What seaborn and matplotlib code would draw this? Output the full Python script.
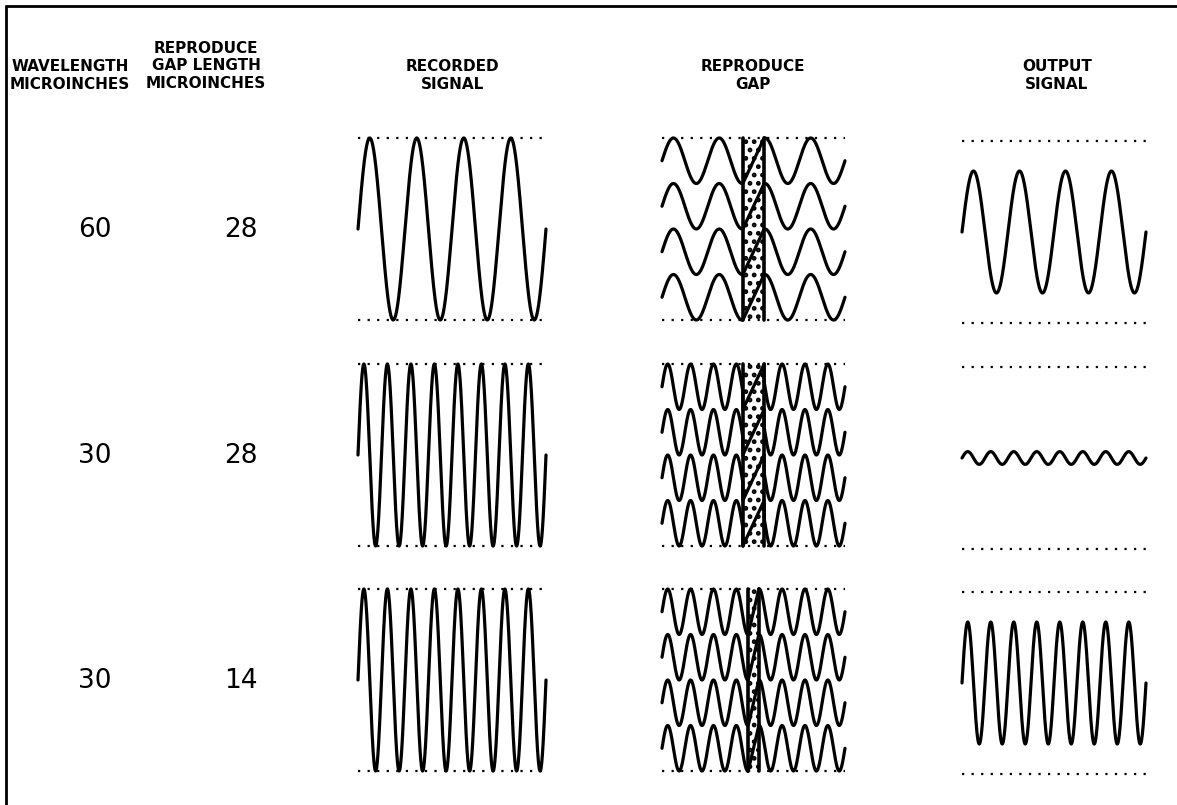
import numpy as np
import pandas as pd
import matplotlib
matplotlib.use("Agg")
import matplotlib.pyplot as plt
from matplotlib.lines import Line2D
import seaborn as sns

# ---------------- data ----------------
wavelength_uin = [60, 30, 30]          # recorded wavelength, microinches
gap_length_uin = [28, 28, 14]          # reproduce gap length, microinches
output_amplitude = [0.67, 0.07, 0.67]  # relative output amplitude
track_length_uin = 240                 # length of track shown in each panel
stacked_tracks = 4                     # number of tracks drawn under the gap

row_labels_wavelength = ["60", "30", "30"]
row_labels_gap = ["28", "28", "14"]
headers = {
    "wavelength": "WAVELENGTH\nMICROINCHES",
    "gap": "REPRODUCE\nGAP LENGTH\nMICROINCHES",
    "recorded": "RECORDED\nSIGNAL",
    "reproduce": "REPRODUCE\nGAP",
    "output": "OUTPUT\nSIGNAL",
}

# ---------------- layout (pixels) ----------------
W, H = 1177, 805
sns.set_theme(style="white")
plt.rcParams["font.family"] = ["DejaVu Sans"]
plt.rcParams["hatch.linewidth"] = 2.2
fig = plt.figure(figsize=(W / 100, H / 100), dpi=100)
fig.patch.set_facecolor("white")

row_top = [138, 364, 589]
panel_h = 182
rec_x = (358, 546)
gap_x = (662, 845)
out_x = (962, 1146)
out_dy = 3

WAVE_LW = 2.3
DOT = dict(color="black", lw=1.6, ls=(0, (1, 3.3)))


def px_axes(x0, x1, y0, y1):
    ax = fig.add_axes([x0 / W, 1 - y1 / H, (x1 - x0) / W, (y1 - y0) / H])
    ax.set_facecolor("none")
    return ax


def finish(ax, ylim):
    ax.set_xlim(0, track_length_uin)
    ax.set_ylim(*ylim)
    ax.axis("off")
    for ln in ax.lines:
        ln.set_clip_on(False)


x = np.linspace(0, track_length_uin, 2401)

for r in range(3):
    lam = wavelength_uin[r]
    g = gap_length_uin[r]
    y0 = row_top[r]
    y1 = y0 + panel_h

    # ---- recorded signal ----
    ax = px_axes(*rec_x, y0, y1)
    df = pd.DataFrame({"x": x, "y": np.sin(2 * np.pi * x / lam)})
    sns.lineplot(data=df, x="x", y="y", ax=ax, color="black", lw=WAVE_LW,
                 estimator=None, sort=False)
    ax.axhline(1, **DOT)
    ax.axhline(-1, **DOT)
    finish(ax, (-1, 1))

    # ---- reproduce gap ----
    ax = px_axes(*gap_x, y0, y1)
    gl = track_length_uin / 2 - g / 2
    gr = track_length_uin / 2 + g / 2
    ax.axvspan(gl, gr, facecolor="none", edgecolor="black", hatch="..", lw=0)
    frames = []
    for k in range(stacked_tracks):
        c = (stacked_tracks - 1) - 2 * k
        left = x[x < gl]
        right = x[x > gr]
        xs = np.concatenate([left, [gl, gl, gr, gr], right])
        ys = np.concatenate([
            c + np.sin(2 * np.pi * left / lam),
            [c + np.sin(2 * np.pi * gl / lam), c - 1, c + 1,
             c + np.sin(2 * np.pi * gr / lam)],
            c + np.sin(2 * np.pi * right / lam),
        ])
        frames.append(pd.DataFrame({"x": xs, "y": ys, "track": k}))
    df = pd.concat(frames, ignore_index=True)
    sns.lineplot(data=df, x="x", y="y", units="track", ax=ax, color="black",
                 lw=WAVE_LW, estimator=None, sort=False)
    ax.axvline(gl, color="black", lw=2.6)
    ax.axvline(gr, color="black", lw=2.6)
    ax.axhline(stacked_tracks, **DOT)
    ax.axhline(-stacked_tracks, **DOT)
    finish(ax, (-stacked_tracks, stacked_tracks))

    # ---- output signal ----
    ax = px_axes(*out_x, y0 + out_dy, y1 + out_dy)
    df = pd.DataFrame({"x": x, "y": output_amplitude[r] * np.sin(2 * np.pi * x / lam)})
    sns.lineplot(data=df, x="x", y="y", ax=ax, color="black", lw=WAVE_LW,
                 estimator=None, sort=False)
    ax.axhline(1, **DOT)
    ax.axhline(-1, **DOT)
    finish(ax, (-1, 1))

    # ---- row numbers ----
    yc = 1 - (y0 + panel_h / 2 + 1) / H
    fig.text(95 / W, yc, row_labels_wavelength[r], ha="center", va="center",
             fontsize=19, color="black")
    fig.text(241 / W, yc, row_labels_gap[r], ha="center", va="center",
             fontsize=19, color="black")

# ---------------- headers ----------------
hdr = dict(ha="center", va="center", fontsize=11, fontweight="bold",
           color="black", linespacing=1.22)
fig.text(70 / W, 1 - 75.5 / H, headers["wavelength"], **hdr)
fig.text(206 / W, 1 - 66 / H, headers["gap"], **hdr)
fig.text(452 / W, 1 - 75.5 / H, headers["recorded"], **hdr)
fig.text(753 / W, 1 - 75.5 / H, headers["reproduce"], **hdr)
fig.text(1057 / W, 1 - 75.5 / H, headers["output"], **hdr)

# ---------------- frame (top and left edges) ----------------
fig.add_artist(Line2D([6 / W, 6 / W], [0, 1 - 6 / H], transform=fig.transFigure,
                      color="black", lw=2))
fig.add_artist(Line2D([6 / W, 1], [1 - 6 / H, 1 - 6 / H], transform=fig.transFigure,
                      color="black", lw=2))

fig.savefig("out.png", dpi=100, facecolor="white")
